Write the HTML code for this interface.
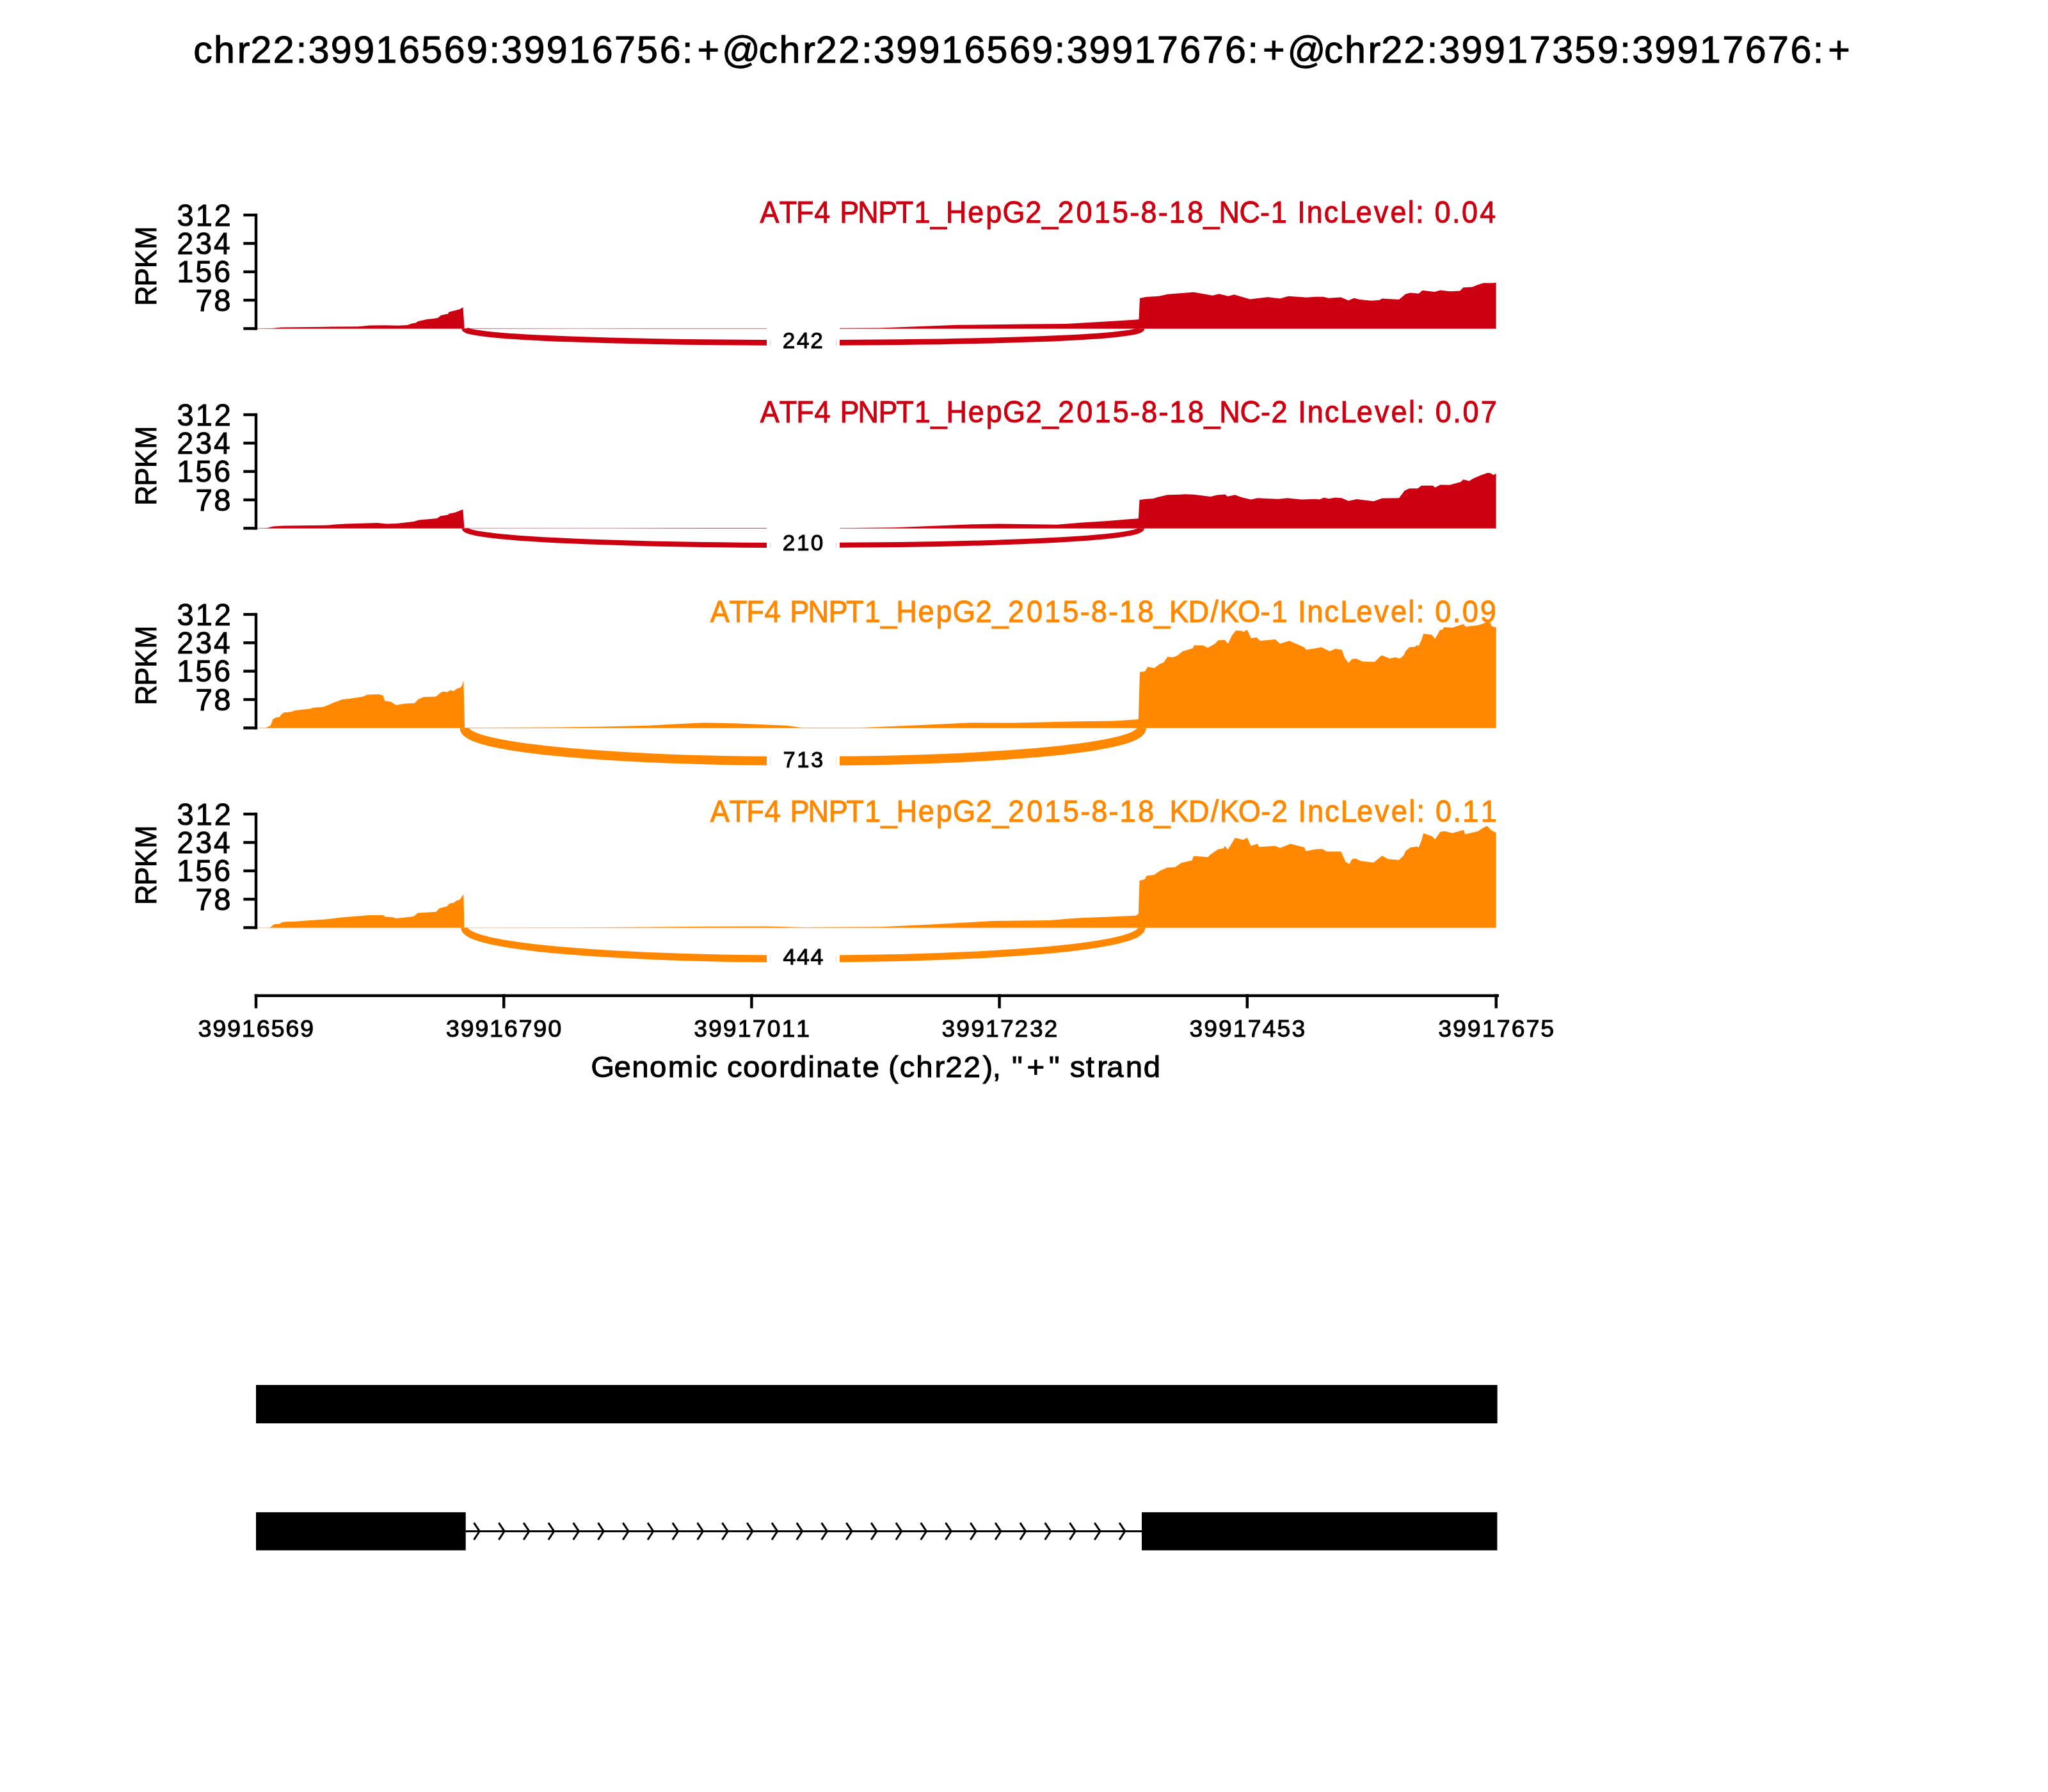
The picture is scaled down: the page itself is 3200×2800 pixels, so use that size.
<!DOCTYPE html>
<html><head><meta charset="utf-8"><title>Sashimi plot</title>
<style>
html,body{margin:0;padding:0;background:#fff;width:3200px;height:2800px;overflow:hidden}
svg{display:block;will-change:transform}
text{font-family:"Liberation Sans",sans-serif;font-kerning:none;stroke-width:1.0px;paint-order:normal}
</style></head><body>
<svg width="3200" height="2800" viewBox="0 0 3200 2800">
<rect x="0" y="0" width="3200" height="2800" fill="#fff"/>
<text transform="scale(1.0120,1)" x="298.6 330.1 366.3 386.8 421.7 457.3 476.0 510.7 545.6 580.4 615.7 650.4 685.5 720.3 755.4 774.0 808.7 843.6 878.4 913.7 948.5 983.3 1018.5 1053.4 1076.7 1114.7 1171.5 1203.0 1239.3 1259.7 1294.7 1330.3 1348.9 1383.6 1418.5 1453.3 1488.6 1523.3 1558.5 1593.2 1628.3 1646.9 1681.6 1716.6 1751.4 1786.5 1821.5 1856.4 1891.4 1926.3 1949.6 1987.6 2044.4 2076.0 2112.2 2132.7 2167.6 2203.2 2221.8 2256.5 2291.5 2326.3 2361.4 2396.5 2431.2 2466.2 2501.2 2519.9 2554.5 2589.5 2624.3 2659.4 2694.5 2729.3 2764.4 2799.2 2822.5" y="98.20" font-size="58.43" fill="#000" stroke="#000">chr22:39916569:39916756:+@chr22:39916569:39917676:+@chr22:39917359:39917676:+</text>
<path d="M400.0,513.4 L425.4,513.0 L439.0,511.6 L517.0,510.6 L560.0,510.3 L577.6,508.5 L602.2,508.2 L621.5,508.8 L636.5,508.0 L643.5,505.6 L649.6,504.5 L653.2,502.1 L661.1,500.3 L668.1,498.8 L676.9,497.9 L684.8,496.5 L688.3,493.0 L697.1,490.7 L699.7,490.7 L701.5,487.6 L711.2,484.9 L718.2,483.2 L723.5,480.1 L725.7,513.2 L900.0,513.4 L1198.0,513.3 L1373.0,512.6 L1495.0,507.8 L1605.0,506.6 L1666.0,506.0 L1739.0,501.7 L1778.5,499.3 L1779.5,499.1 L1781.0,466.1 L1790.5,464.0 L1811.0,462.8 L1824.2,459.8 L1865.2,456.6 L1894.5,461.7 L1904.8,459.3 L1919.4,462.8 L1928.2,460.3 L1953.1,467.6 L1981.0,464.2 L2000.0,466.6 L2013.2,462.8 L2041.0,464.7 L2055.6,463.7 L2067.3,463.7 L2076.1,465.7 L2095.2,464.4 L2106.9,469.5 L2115.7,465.7 L2124.4,467.9 L2142.0,469.8 L2155.2,469.1 L2159.6,466.6 L2186.0,468.0 L2196.2,459.5 L2203.5,457.4 L2216.7,458.8 L2222.6,453.7 L2241.6,455.9 L2250.4,453.4 L2265.1,455.2 L2281.2,454.4 L2286.3,449.3 L2300.2,448.6 L2309.0,444.9 L2317.8,442.3 L2332.4,442.3 L2336.1,441.7 L2337.6,441.7 L2337.6,513.4 Z" fill="#CC0011"/>
<rect x="400" y="512.70" width="1937.6" height="1.4" fill="#CC0011" fill-opacity="0.35"/>
<path d="M725.7,513.4 C725.7,542.73 1783.9,542.73 1783.9,513.4" fill="none" stroke="#CC0011" stroke-width="8.8"/>
<rect x="1198" y="492.5" width="114" height="80" fill="#fff"/>
<rect x="1203.0" y="531.00" width="1" height="8.80" fill="#CC0011" fill-opacity="0.25"/>
<rect x="1305.8" y="531.00" width="1" height="8.80" fill="#CC0011" fill-opacity="0.25"/>
<text transform="scale(0.9881,1)" x="1237.6 1260.0 1281.6" y="544.50" font-size="35.61" fill="#000" stroke="#000">242</text>
<rect x="397.78" y="333.78" width="4.44" height="181.84" fill="#000"/>
<rect x="380.3" y="511.18" width="19.69999999999999" height="4.44" fill="#000"/>
<rect x="380.3" y="466.83" width="19.69999999999999" height="4.44" fill="#000"/>
<rect x="380.3" y="422.48" width="19.69999999999999" height="4.44" fill="#000"/>
<rect x="380.3" y="378.13" width="19.69999999999999" height="4.44" fill="#000"/>
<rect x="380.3" y="333.78" width="19.69999999999999" height="4.44" fill="#000"/>
<text transform="scale(1.0011,1)" x="305.1 333.8" y="485.85" font-size="47.24" fill="#000" stroke="#000">78</text>
<text transform="scale(0.9846,1)" x="280.9 310.1 339.4" y="441.50" font-size="47.24" fill="#000" stroke="#000">156</text>
<text transform="scale(0.9750,1)" x="283.5 313.4 342.6" y="397.15" font-size="47.24" fill="#000" stroke="#000">234</text>
<text transform="scale(0.9941,1)" x="278.1 307.5 336.8" y="352.80" font-size="47.24" fill="#000" stroke="#000">312</text>
<text transform="rotate(-90) scale(0.9223,1)" x="-517.9 -485.1 -454.2 -422.4" y="244.40" font-size="46.80" fill="#000" stroke="#000">RPKM</text>
<text transform="scale(0.9447,1)" x="1257.1 1289.0 1316.8 1346.7 1374.9 1389.0 1418.7 1452.6 1481.7 1512.1 1539.2 1564.6 1600.9 1630.5 1658.1 1696.0 1723.5 1749.5 1780.0 1809.8 1839.8 1868.7 1886.9 1915.7 1933.6 1963.8 1990.6 2016.0 2049.8 2084.2 2102.1 2130.6 2145.9 2161.2 2189.8 2216.1 2242.7 2272.4 2299.6 2328.4 2341.6 2356.1 2372.8 2401.9 2417.7 2447.7" y="348.30" font-size="47.53" fill="#CC0011" stroke="#CC0011">ATF4 PNPT1_HepG2_2015-8-18_NC-1 IncLevel: 0.04</text>
<path d="M400.0,825.4 L417.6,825.0 L426.4,822.4 L444.0,821.5 L514.3,820.6 L523.0,819.4 L540.6,818.5 L589.8,817.1 L603.9,818.5 L619.7,818.0 L646.1,815.0 L654.9,812.4 L683.0,810.1 L688.3,806.2 L698.8,804.8 L702.3,802.5 L711.1,800.8 L723.4,796.0 L725.5,825.4 L950.0,825.4 L1100.0,825.0 L1198.0,825.0 L1312.0,825.2 L1397.7,824.3 L1519.7,819.3 L1561.2,818.6 L1651.6,819.8 L1690.6,816.6 L1727.2,814.2 L1763.9,811.3 L1778.8,810.2 L1780.5,781.0 L1790.5,779.8 L1802.2,779.1 L1808.1,776.9 L1824.2,773.2 L1843.2,772.8 L1852.0,772.2 L1865.2,772.8 L1891.6,776.1 L1901.8,773.6 L1914.3,772.5 L1917.9,775.7 L1929.7,773.2 L1939.9,776.9 L1954.6,780.5 L1964.8,778.3 L1997.0,779.8 L2011.7,778.3 L2033.7,780.5 L2055.6,779.8 L2061.5,780.5 L2068.8,777.4 L2076.1,779.3 L2086.4,777.4 L2096.6,778.3 L2106.9,782.7 L2120.0,780.1 L2146.4,783.3 L2159.6,778.6 L2186.0,778.3 L2194.8,766.6 L2202.1,763.2 L2215.3,763.2 L2221.1,758.8 L2238.7,758.8 L2242.4,761.7 L2250.4,757.4 L2265.1,757.8 L2282.6,753.0 L2286.3,749.3 L2295.8,751.5 L2301.7,747.8 L2313.4,742.7 L2323.7,739.0 L2328.1,739.0 L2333.9,742.3 L2336.1,740.5 L2337.6,740.5 L2337.6,825.4 Z" fill="#CC0011"/>
<rect x="400" y="824.70" width="1937.6" height="1.4" fill="#CC0011" fill-opacity="0.35"/>
<path d="M725.7,825.4 C725.7,860.73 1783.9,860.73 1783.9,825.4" fill="none" stroke="#CC0011" stroke-width="8.0"/>
<rect x="1198" y="808.5" width="114" height="80" fill="#fff"/>
<rect x="1203.0" y="847.90" width="1" height="8.00" fill="#CC0011" fill-opacity="0.25"/>
<rect x="1305.8" y="847.90" width="1" height="8.00" fill="#CC0011" fill-opacity="0.25"/>
<text transform="scale(0.9874,1)" x="1238.4 1260.8 1283.0" y="860.50" font-size="35.61" fill="#000" stroke="#000">210</text>
<rect x="397.78" y="645.78" width="4.44" height="181.84" fill="#000"/>
<rect x="380.3" y="823.18" width="19.69999999999999" height="4.44" fill="#000"/>
<rect x="380.3" y="778.83" width="19.69999999999999" height="4.44" fill="#000"/>
<rect x="380.3" y="734.48" width="19.69999999999999" height="4.44" fill="#000"/>
<rect x="380.3" y="690.13" width="19.69999999999999" height="4.44" fill="#000"/>
<rect x="380.3" y="645.78" width="19.69999999999999" height="4.44" fill="#000"/>
<text transform="scale(1.0011,1)" x="305.1 333.8" y="797.85" font-size="47.24" fill="#000" stroke="#000">78</text>
<text transform="scale(0.9846,1)" x="280.9 310.1 339.4" y="753.50" font-size="47.24" fill="#000" stroke="#000">156</text>
<text transform="scale(0.9750,1)" x="283.5 313.4 342.6" y="709.15" font-size="47.24" fill="#000" stroke="#000">234</text>
<text transform="scale(0.9941,1)" x="278.1 307.5 336.8" y="664.80" font-size="47.24" fill="#000" stroke="#000">312</text>
<text transform="rotate(-90) scale(0.9223,1)" x="-856.2 -823.4 -792.5 -760.7" y="244.40" font-size="46.80" fill="#000" stroke="#000">RPKM</text>
<text transform="scale(0.9454,1)" x="1256.3 1288.1 1316.0 1345.9 1374.1 1388.2 1417.9 1451.8 1481.0 1511.4 1538.5 1563.9 1600.2 1629.8 1657.4 1695.3 1722.8 1748.8 1779.4 1809.2 1839.2 1868.1 1886.3 1915.1 1933.0 1963.2 1990.1 2015.4 2049.3 2083.7 2101.2 2130.1 2145.4 2160.8 2189.3 2215.6 2242.3 2272.0 2299.1 2328.0 2341.2 2355.7 2372.4 2401.5 2417.4 2447.3" y="660.30" font-size="47.53" fill="#CC0011" stroke="#CC0011">ATF4 PNPT1_HepG2_2015-8-18_NC-2 IncLevel: 0.07</text>
<path d="M400.0,1137.4 L415.8,1137.0 L422.9,1133.4 L426.4,1123.7 L431.6,1121.1 L436.9,1120.2 L439.6,1116.3 L443.9,1113.2 L454.5,1112.3 L461.5,1110.0 L484.4,1107.5 L489.6,1105.8 L505.5,1104.4 L514.3,1100.9 L521.3,1097.7 L530.1,1094.7 L533.6,1092.9 L545.9,1091.7 L567.0,1088.6 L574.0,1085.4 L591.6,1084.7 L598.6,1086.8 L601.3,1095.2 L610.9,1096.5 L618.8,1101.7 L632.0,1099.5 L647.8,1098.7 L653.1,1092.9 L661.9,1088.9 L681.2,1088.6 L688.3,1082.4 L691.8,1080.6 L698.8,1081.5 L703.2,1078.5 L709.4,1079.8 L712.9,1076.6 L719.9,1074.1 L722.0,1070.8 L724.3,1063.1 L726.1,1137.0 L732.2,1137.1 L866.5,1136.6 L939.7,1135.6 L1013.0,1133.7 L1078.9,1130.3 L1100.9,1129.3 L1147.3,1130.3 L1200.0,1132.5 L1229.3,1133.7 L1252.7,1136.9 L1346.5,1136.9 L1449.0,1132.5 L1516.4,1129.3 L1580.9,1129.6 L1683.4,1127.2 L1740.2,1126.6 L1767.0,1124.8 L1778.8,1124.0 L1781.0,1050.3 L1789.0,1048.9 L1793.4,1042.0 L1803.7,1043.7 L1812.5,1037.2 L1818.3,1035.0 L1824.2,1026.2 L1833.0,1026.9 L1840.3,1024.0 L1847.6,1017.7 L1863.7,1013.0 L1865.9,1008.3 L1879.9,1008.6 L1887.2,1012.3 L1898.9,1005.4 L1903.3,1000.5 L1913.5,999.8 L1918.7,1005.7 L1925.3,992.2 L1931.1,985.2 L1939.9,985.4 L1942.8,987.4 L1948.7,984.0 L1954.6,997.2 L1963.4,996.1 L1969.2,1001.3 L1992.6,999.1 L2000.0,1005.7 L2014.6,1001.3 L2038.0,1011.5 L2041.0,1015.2 L2055.6,1013.0 L2064.4,1011.2 L2077.6,1017.4 L2086.4,1013.7 L2096.6,1015.2 L2101.0,1027.6 L2106.9,1035.7 L2112.7,1029.8 L2118.6,1029.1 L2128.8,1033.5 L2147.9,1034.2 L2156.7,1025.4 L2159.6,1024.0 L2171.3,1029.1 L2180.1,1026.9 L2187.4,1029.1 L2193.3,1024.0 L2196.2,1017.4 L2202.1,1011.2 L2210.9,1010.8 L2213.8,1007.9 L2216.7,1009.3 L2221.1,999.8 L2224.1,990.3 L2237.2,991.7 L2242.4,998.3 L2250.4,983.7 L2253.3,984.4 L2256.3,980.0 L2269.5,980.8 L2278.3,977.8 L2287.0,974.9 L2290.0,979.3 L2309.0,977.1 L2317.8,974.2 L2323.7,971.2 L2328.0,972.0 L2331.0,978.6 L2336.1,980.0 L2337.6,980.0 L2337.6,1137.4 Z" fill="#FF8800"/>
<rect x="400" y="1136.70" width="1937.6" height="1.4" fill="#FF8800" fill-opacity="0.35"/>
<path d="M725.7,1137.4 C725.7,1206.33 1783.9,1206.33 1783.9,1137.4" fill="none" stroke="#FF8800" stroke-width="14.2"/>
<rect x="1198" y="1146.7" width="114" height="80" fill="#fff"/>
<rect x="1203.0" y="1182.00" width="1" height="14.20" fill="#FF8800" fill-opacity="0.25"/>
<rect x="1305.8" y="1182.00" width="1" height="14.20" fill="#FF8800" fill-opacity="0.25"/>
<text transform="scale(0.9712,1)" x="1259.9 1282.1 1304.6" y="1198.70" font-size="35.61" fill="#000" stroke="#000">713</text>
<rect x="397.78" y="957.78" width="4.44" height="181.84" fill="#000"/>
<rect x="380.3" y="1135.18" width="19.69999999999999" height="4.44" fill="#000"/>
<rect x="380.3" y="1090.83" width="19.69999999999999" height="4.44" fill="#000"/>
<rect x="380.3" y="1046.48" width="19.69999999999999" height="4.44" fill="#000"/>
<rect x="380.3" y="1002.13" width="19.69999999999999" height="4.44" fill="#000"/>
<rect x="380.3" y="957.78" width="19.69999999999999" height="4.44" fill="#000"/>
<text transform="scale(1.0011,1)" x="305.1 333.8" y="1109.85" font-size="47.24" fill="#000" stroke="#000">78</text>
<text transform="scale(0.9846,1)" x="280.9 310.1 339.4" y="1065.50" font-size="47.24" fill="#000" stroke="#000">156</text>
<text transform="scale(0.9750,1)" x="283.5 313.4 342.6" y="1021.15" font-size="47.24" fill="#000" stroke="#000">234</text>
<text transform="scale(0.9941,1)" x="278.1 307.5 336.8" y="976.80" font-size="47.24" fill="#000" stroke="#000">312</text>
<text transform="rotate(-90) scale(0.9223,1)" x="-1194.5 -1161.7 -1130.8 -1099.0" y="244.40" font-size="46.80" fill="#000" stroke="#000">RPKM</text>
<text transform="scale(0.9509,1)" x="1167.1 1198.7 1226.4 1256.1 1284.2 1298.1 1327.6 1361.3 1390.3 1420.5 1447.4 1472.6 1508.7 1538.1 1565.5 1603.2 1630.5 1656.3 1686.7 1716.2 1746.0 1774.9 1792.9 1821.5 1839.3 1869.3 1896.0 1921.4 1952.4 1988.8 2003.8 2033.9 2071.3 2089.1 2117.4 2132.6 2147.8 2176.1 2202.3 2228.8 2258.2 2285.2 2314.0 2327.0 2341.5 2358.0 2386.9 2402.7 2432.3" y="972.30" font-size="47.53" fill="#FF8800" stroke="#FF8800">ATF4 PNPT1_HepG2_2015-8-18_KD/KO-1 IncLevel: 0.09</text>
<path d="M400.0,1449.6 L421.1,1449.5 L424.6,1447.3 L428.1,1444.2 L436.9,1443.5 L440.4,1441.2 L445.7,1440.3 L458.0,1440.0 L487.9,1437.7 L509.0,1436.4 L523.0,1434.7 L533.6,1433.6 L570.5,1430.6 L575.8,1430.1 L598.6,1430.1 L602.1,1432.4 L612.7,1432.9 L619.7,1435.0 L646.1,1431.9 L653.1,1426.6 L681.2,1424.8 L686.5,1419.2 L698.8,1416.1 L702.3,1411.8 L709.4,1410.4 L712.9,1407.3 L718.2,1406.0 L724.3,1397.2 L725.5,1449.5 L900.0,1449.3 L1100.0,1447.8 L1200.0,1447.5 L1258.6,1448.9 L1375.8,1448.3 L1454.9,1444.5 L1551.6,1439.0 L1639.5,1438.1 L1683.4,1434.6 L1727.4,1432.8 L1774.3,1430.8 L1778.8,1427.9 L1780.5,1375.9 L1789.0,1373.7 L1791.2,1368.6 L1803.7,1366.7 L1812.5,1360.6 L1824.2,1355.4 L1835.9,1355.0 L1846.2,1348.1 L1862.3,1344.5 L1865.2,1337.4 L1887.2,1339.3 L1891.6,1334.9 L1903.3,1326.9 L1912.1,1325.4 L1913.5,1321.7 L1918.7,1327.6 L1929.7,1309.3 L1942.8,1312.2 L1948.7,1309.0 L1954.6,1321.7 L1964.8,1318.4 L1967.7,1323.2 L1992.6,1321.7 L2000.0,1325.1 L2016.1,1318.4 L2038.0,1323.9 L2040.3,1329.8 L2055.6,1326.9 L2065.9,1326.6 L2073.2,1330.5 L2095.2,1330.5 L2102.5,1346.6 L2108.3,1350.3 L2112.7,1342.3 L2118.6,1341.5 L2125.9,1345.2 L2146.4,1347.7 L2159.6,1337.1 L2168.4,1342.3 L2186.0,1343.7 L2193.3,1336.4 L2196.2,1329.8 L2203.5,1324.2 L2213.8,1322.8 L2216.7,1323.9 L2221.1,1313.0 L2224.1,1302.0 L2237.2,1306.4 L2242.4,1311.5 L2250.4,1299.8 L2257.7,1298.7 L2269.5,1301.7 L2287.0,1296.8 L2289.2,1303.4 L2309.0,1299.0 L2317.8,1293.2 L2323.7,1290.5 L2329.5,1296.8 L2336.1,1300.5 L2337.6,1300.5 L2337.6,1449.6 Z" fill="#FF8800"/>
<rect x="400" y="1448.90" width="1937.6" height="1.4" fill="#FF8800" fill-opacity="0.35"/>
<path d="M725.7,1449.6 C725.7,1514.40 1783.9,1514.40 1783.9,1449.6" fill="none" stroke="#FF8800" stroke-width="11.0"/>
<rect x="1198" y="1455.3" width="114" height="80" fill="#fff"/>
<rect x="1203.0" y="1492.70" width="1" height="11.00" fill="#FF8800" fill-opacity="0.25"/>
<rect x="1305.8" y="1492.70" width="1" height="11.00" fill="#FF8800" fill-opacity="0.25"/>
<text transform="scale(1.0029,1)" x="1219.9 1241.4 1262.9" y="1507.30" font-size="35.61" fill="#000" stroke="#000">444</text>
<rect x="397.78" y="1269.78" width="4.44" height="181.84" fill="#000"/>
<rect x="380.3" y="1447.18" width="19.69999999999999" height="4.44" fill="#000"/>
<rect x="380.3" y="1402.83" width="19.69999999999999" height="4.44" fill="#000"/>
<rect x="380.3" y="1358.48" width="19.69999999999999" height="4.44" fill="#000"/>
<rect x="380.3" y="1314.13" width="19.69999999999999" height="4.44" fill="#000"/>
<rect x="380.3" y="1269.78" width="19.69999999999999" height="4.44" fill="#000"/>
<text transform="scale(1.0011,1)" x="305.1 333.8" y="1421.85" font-size="47.24" fill="#000" stroke="#000">78</text>
<text transform="scale(0.9846,1)" x="280.9 310.1 339.4" y="1377.50" font-size="47.24" fill="#000" stroke="#000">156</text>
<text transform="scale(0.9750,1)" x="283.5 313.4 342.6" y="1333.15" font-size="47.24" fill="#000" stroke="#000">234</text>
<text transform="scale(0.9941,1)" x="278.1 307.5 336.8" y="1288.80" font-size="47.24" fill="#000" stroke="#000">312</text>
<text transform="rotate(-90) scale(0.9223,1)" x="-1532.8 -1500.0 -1469.1 -1437.3" y="244.40" font-size="46.80" fill="#000" stroke="#000">RPKM</text>
<text transform="scale(0.9491,1)" x="1169.3 1201.0 1228.8 1258.5 1286.7 1300.7 1330.2 1364.1 1393.1 1423.4 1450.4 1475.7 1511.8 1541.3 1568.8 1606.5 1633.9 1659.8 1690.3 1719.9 1749.8 1778.7 1796.7 1825.4 1843.3 1873.4 1900.1 1925.6 1956.7 1993.1 2008.3 2038.4 2075.9 2093.3 2122.1 2137.3 2152.6 2181.0 2207.2 2233.8 2263.3 2290.4 2319.2 2332.3 2346.8 2363.4 2392.4 2407.9 2437.8" y="1284.30" font-size="47.53" fill="#FF8800" stroke="#FF8800">ATF4 PNPT1_HepG2_2015-8-18_KD/KO-2 IncLevel: 0.11</text>
<rect x="397.8" y="1553.48" width="1944.2" height="4.44" fill="#000"/>
<rect x="397.78" y="1553.5" width="4.44" height="21.9" fill="#000"/>
<text transform="scale(1.0112,1)" x="306.1 328.5 351.1 373.6 396.3 418.7 441.4 463.9" y="1619.70" font-size="37.50" fill="#000" stroke="#000">39916569</text>
<rect x="784.97" y="1553.5" width="4.44" height="21.9" fill="#000"/>
<text transform="scale(1.0106,1)" x="689.5 711.9 734.4 756.9 779.6 802.1 824.6 847.3" y="1619.70" font-size="37.50" fill="#000" stroke="#000">39916790</text>
<rect x="1172.16" y="1553.5" width="4.44" height="21.9" fill="#000"/>
<text transform="scale(0.9964,1)" x="1088.1 1110.9 1133.9 1156.8 1179.9 1203.0 1225.8 1248.8" y="1619.70" font-size="37.50" fill="#000" stroke="#000">39917011</text>
<rect x="1559.35" y="1553.5" width="4.44" height="21.9" fill="#000"/>
<text transform="scale(0.9946,1)" x="1479.4 1502.3 1525.4 1548.4 1571.5 1594.2 1617.8 1640.3" y="1619.70" font-size="37.50" fill="#000" stroke="#000">39917232</text>
<rect x="1946.54" y="1553.5" width="4.44" height="21.9" fill="#000"/>
<text transform="scale(0.9926,1)" x="1872.4 1895.3 1918.3 1941.2 1964.4 1987.5 2010.4 2033.6" y="1619.70" font-size="37.50" fill="#000" stroke="#000">39917453</text>
<rect x="2335.48" y="1553.5" width="4.44" height="21.9" fill="#000"/>
<text transform="scale(1.0006,1)" x="2246.0 2268.7 2291.5 2314.3 2337.3 2360.3 2383.1 2405.9" y="1619.70" font-size="37.50" fill="#000" stroke="#000">39917675</text>
<text transform="scale(1.0221,1)" x="903.2 938.7 965.9 993.0 1021.2 1062.5 1073.6 1097.7 1111.4 1135.9 1162.5 1190.8 1207.3 1235.2 1247.4 1272.8 1302.7 1318.4 1344.6 1358.0 1375.3 1400.3 1429.0 1445.3 1473.0 1502.3 1517.3 1531.2 1546.8 1569.8 1603.3 1621.6 1635.5 1660.1 1677.2 1691.9 1720.8 1748.1" y="1682.90" font-size="46.37" fill="#000" stroke="#000">Genomic coordinate (chr22), &quot;+&quot; strand</text>
<rect x="400" y="2164" width="1939.6" height="60" fill="#000"/>
<rect x="400" y="2362.9" width="327.7" height="59.5" fill="#000"/>
<rect x="1784" y="2362.9" width="555.4" height="59.5" fill="#000"/>
<rect x="727.7" y="2391.1" width="1056.3" height="3" fill="#000"/>
<path d="M740.50,2379.4 L749.30,2392.6 L740.50,2405.8 M779.29,2379.4 L788.09,2392.6 L779.29,2405.8 M818.08,2379.4 L826.88,2392.6 L818.08,2405.8 M856.87,2379.4 L865.67,2392.6 L856.87,2405.8 M895.66,2379.4 L904.46,2392.6 L895.66,2405.8 M934.45,2379.4 L943.25,2392.6 L934.45,2405.8 M973.24,2379.4 L982.04,2392.6 L973.24,2405.8 M1012.03,2379.4 L1020.83,2392.6 L1012.03,2405.8 M1050.82,2379.4 L1059.62,2392.6 L1050.82,2405.8 M1089.61,2379.4 L1098.41,2392.6 L1089.61,2405.8 M1128.40,2379.4 L1137.20,2392.6 L1128.40,2405.8 M1167.19,2379.4 L1175.99,2392.6 L1167.19,2405.8 M1205.98,2379.4 L1214.78,2392.6 L1205.98,2405.8 M1244.77,2379.4 L1253.57,2392.6 L1244.77,2405.8 M1283.56,2379.4 L1292.36,2392.6 L1283.56,2405.8 M1322.35,2379.4 L1331.15,2392.6 L1322.35,2405.8 M1361.14,2379.4 L1369.94,2392.6 L1361.14,2405.8 M1399.93,2379.4 L1408.73,2392.6 L1399.93,2405.8 M1438.72,2379.4 L1447.52,2392.6 L1438.72,2405.8 M1477.51,2379.4 L1486.31,2392.6 L1477.51,2405.8 M1516.30,2379.4 L1525.10,2392.6 L1516.30,2405.8 M1555.09,2379.4 L1563.89,2392.6 L1555.09,2405.8 M1593.88,2379.4 L1602.68,2392.6 L1593.88,2405.8 M1632.67,2379.4 L1641.47,2392.6 L1632.67,2405.8 M1671.46,2379.4 L1680.26,2392.6 L1671.46,2405.8 M1710.25,2379.4 L1719.05,2392.6 L1710.25,2405.8 M1749.04,2379.4 L1757.84,2392.6 L1749.04,2405.8" fill="none" stroke="#000" stroke-width="3" stroke-linejoin="miter"/>
</svg>
</body></html>
